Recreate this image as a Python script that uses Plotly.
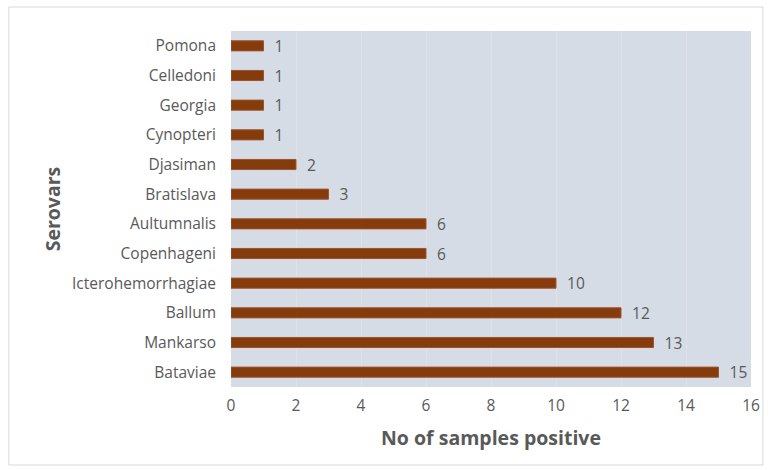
import plotly.graph_objects as go

serovars = ["Bataviae", "Mankarso", "Ballum", "Icterohemorrhagiae", "Copenhageni",
            "Aultumnalis", "Bratislava", "Djasiman", "Cynopteri", "Georgia",
            "Celledoni", "Pomona"]
positives = [15, 13, 12, 10, 6, 6, 3, 2, 1, 1, 1, 1]
x_ticks = [0, 2, 4, 6, 8, 10, 12, 14, 16]

FONT = "'Open Sans', Lato, sans-serif"
GRAY = "#595959"

fig = go.Figure(go.Bar(
    x=positives, y=serovars, orientation="h",
    marker=dict(color="#843C0C", line=dict(color="#A0522D", width=1)),
    width=0.34,
    text=["\u00a0\u00a0" + str(v) for v in positives], textposition="outside",
    constraintext="none",
    textfont=dict(family=FONT, size=15.5, color=GRAY),
    cliponaxis=False,
))

fig.update_layout(
    width=772, height=470,
    margin=dict(l=231, r=19, t=31, b=83),
    paper_bgcolor="white", plot_bgcolor="#D6DCE5",
    font=dict(family=FONT, size=15.5, color=GRAY),
    showlegend=False,
    xaxis=dict(range=[0, 16], tickvals=x_ticks, showgrid=True, gridcolor="#E0E0E6",
               gridwidth=1, zeroline=False, showline=False, ticks="",
               ticklabelstandoff=7,
               tickfont=dict(family=FONT, size=15.5, color=GRAY),
               title=dict(text="<b>No of samples positive</b>",
                          font=dict(family=FONT, size=19.5, color=GRAY), standoff=16)),
    yaxis=dict(categoryorder="array", categoryarray=serovars, range=[-0.5, 11.5],
               showgrid=False, zeroline=False, showline=False, ticks="",
               ticklabelstandoff=14,
               tickfont=dict(family=FONT, size=15.5, color=GRAY),
               title=dict(text="<b>Serovars</b>",
                          font=dict(family=FONT, size=19.5, color=GRAY), standoff=6)),
    shapes=[dict(type="rect", xref="paper", yref="paper",
                 x0=-(231-8)/522, x1=1 + (19-7)/522, y0=-(83-5)/356, y1=1 + (31-7)/356,
                 line=dict(color="#D9D9D9", width=1), fillcolor="rgba(0,0,0,0)", layer="below")],
)

fig.write_html("out.html", config={"displayModeBar": False},
               post_script="document.body.style.margin='0';document.body.style.overflow='hidden';")
